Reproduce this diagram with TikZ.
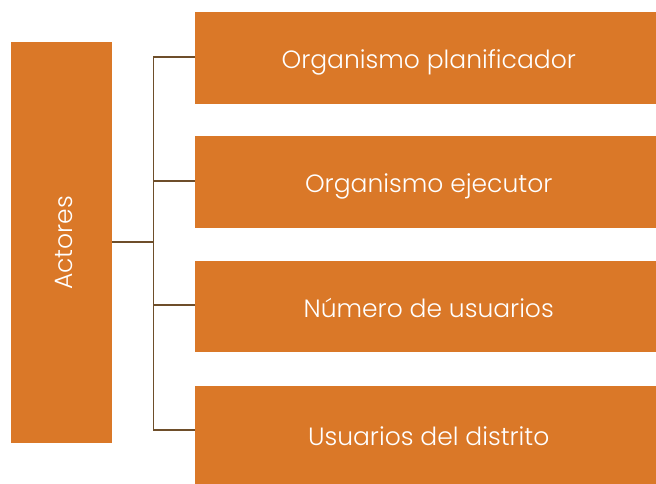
\documentclass[tikz,border=0pt]{standalone}
\usepackage{fontspec}
\setmainfont{Poppins}[UprightFont=* Light]
\definecolor{boxorange}{HTML}{DA7828}
\definecolor{linebrown}{HTML}{6E4E2A}
\begin{document}
\begin{tikzpicture}[x=1pt,y=-1pt,
  obox/.style={fill=boxorange,draw=none,inner sep=0pt,anchor=north west},
  lbl/.style={text=white,inner sep=0pt,anchor=base,font=\fontsize{25}{28}\selectfont},
  conn/.style={draw=linebrown,line width=1.8pt}]
\useasboundingbox (0,0) rectangle (656,484);
\node[obox,minimum width=101pt,minimum height=401pt] (act) at (11,42) {};
\node[obox,minimum width=461pt,minimum height=92pt] (b1) at (195,12) {};
\node[obox,minimum width=461pt,minimum height=92pt] (b2) at (195,136) {};
\node[obox,minimum width=461pt,minimum height=91pt] (b3) at (195,261) {};
\node[obox,minimum width=461pt,minimum height=98pt] (b4) at (195,386) {};
\node[lbl,rotate=90] (ta) at ([xshift=11pt]act.center) {Actores};
\node[lbl] (t1) at ([yshift=-10.5pt,xshift=3pt]b1.center) {Organismo planificador};
\node[lbl] (t2) at ([yshift=-10.5pt,xshift=3pt]b2.center) {Organismo ejecutor};
\node[lbl] (t3) at ([yshift=-10.5pt,xshift=3pt]b3.center) {Número de usuarios};
\node[lbl] (t4) at ([yshift=-10.5pt,xshift=3pt]b4.center) {Usuarios del distrito};
\coordinate (j) at (153.5,242);
\coordinate (t) at (153.5,57);
\coordinate (bt) at (153.5,430);
\draw[conn] (act.east |- j) -- (j);
\draw[conn] (b1.west |- t) -- (t) -- (bt) -- (b4.west |- bt);
\draw[conn] (153.5,181) -- (b2.west |- 0,181);
\draw[conn] (153.5,305) -- (b3.west |- 0,305);
\end{tikzpicture}
\end{document}
